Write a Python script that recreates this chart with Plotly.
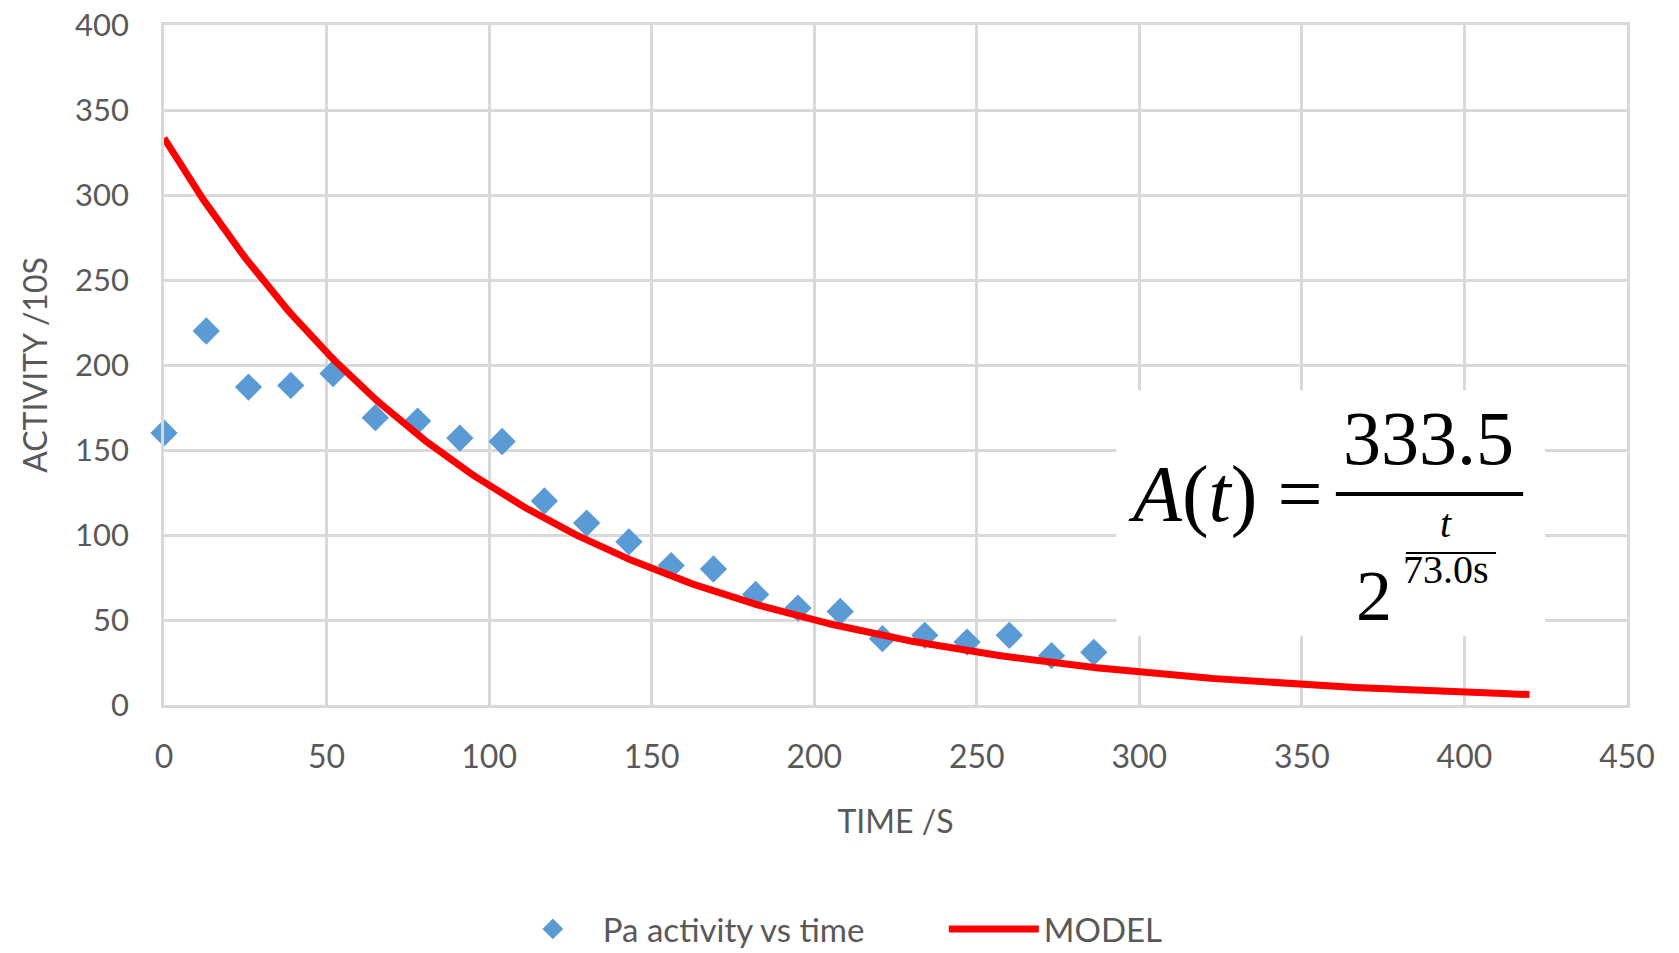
import numpy as np
import plotly.graph_objects as go

# Measured Pa activity (counts per 10 s) against time
time_s = [0, 13, 26, 39, 52, 65, 78, 91, 104, 117, 130, 143,
          156, 169, 182, 195, 208, 221, 234, 247, 260, 273, 286]
activity = [160, 220, 187, 188, 195, 169, 167, 157, 155, 120, 107, 96,
            82, 80, 65, 57, 55, 39, 41, 37, 41, 29, 31]

# Decay model parameters
A0 = 333.5
HALF_LIFE = 73.0
MODEL_END = 420

x_ticks = [0, 50, 100, 150, 200, 250, 300, 350, 400, 450]
y_ticks = [0, 50, 100, 150, 200, 250, 300, 350, 400]

model_t = np.linspace(0, MODEL_END, 400)
model_a = A0 / 2 ** (model_t / HALF_LIFE)

GRID = "#D9D9D9"
TEXT = "#595959"
SANS = "Lato"
SERIF = "Liberation Serif"

fig = go.Figure()
fig.add_trace(go.Scatter(
    x=time_s, y=activity, mode="markers", name="Pa activity vs time",
    marker=dict(symbol="diamond", size=21, color="#5B9BD5"),
    cliponaxis=False,
))
fig.add_trace(go.Scatter(
    x=model_t, y=model_a, mode="lines", name="MODEL",
    line=dict(color="#FF0000", width=7),
    cliponaxis=False,
))

# White panel behind the formula (covers the gridlines)
fig.add_shape(type="rect", xref="paper", yref="paper",
              x0=0.651, x1=0.944, y0=0.101, y1=0.463,
              fillcolor="white", line=dict(width=0), layer="above")

# Formula A(t) = 333.5 / 2^(t / 73.0s)
ann = [
    dict(text="<i>A</i>(<i>t</i>) =", x=0.6576, y=0.310, xanchor="left",
         size=80),
    dict(text="333.5", x=0.8643, y=0.3926, xanchor="center", size=76),
    dict(text="2", x=0.8274, y=0.1596, xanchor="center", size=72),
    dict(text="73.0s", x=0.8760, y=0.1990, xanchor="center", size=40),
    dict(text="<i>t</i>", x=0.8766, y=0.2669, xanchor="center", size=40),
]
for a in ann:
    fig.add_annotation(text=a["text"], x=a["x"], y=a["y"], xref="paper",
                       yref="paper", xanchor=a["xanchor"], yanchor="middle",
                       showarrow=False,
                       font=dict(family=SERIF, size=a["size"], color="black"))
fig.add_shape(type="line", xref="paper", yref="paper",
              x0=0.801, x1=0.929, y0=0.3103, y1=0.3103,
              line=dict(color="black", width=4), layer="above")
fig.add_shape(type="line", xref="paper", yref="paper",
              x0=0.8489, x1=0.9105, y0=0.2235, y1=0.2235,
              line=dict(color="black", width=2), layer="above")

fig.update_layout(
    width=1679, height=953,
    margin=dict(l=164, r=52, t=25, b=248, autoexpand=False),
    paper_bgcolor="white", plot_bgcolor="white",
    font=dict(family=SANS, color=TEXT, size=31),
    showlegend=True,
    legend=dict(orientation="h", x=0.2316, xanchor="left",
                y=-0.3294, yanchor="middle",
                font=dict(family=SANS, size=33, color=TEXT),
                itemwidth=90, entrywidth=336, entrywidthmode="pixels",
                bgcolor="rgba(0,0,0,0)"),
)
fig.update_xaxes(
    range=[0, 450], tickvals=x_ticks, ticktext=[str(v) for v in x_ticks],
    showgrid=True, gridcolor=GRID, gridwidth=2.5,
    showline=True, linecolor=GRID, linewidth=2.5, mirror=True,
    zeroline=False, ticks="", ticklabelstandoff=22,
    tickfont=dict(family=SANS, size=32, color=TEXT),
    title=dict(text="TIME /S", standoff=37,
               font=dict(family=SANS, size=32, color=TEXT)),
    automargin=False,
)
fig.update_yaxes(
    range=[0, 400], tickvals=y_ticks, ticktext=[str(v) for v in y_ticks],
    showgrid=True, gridcolor=GRID, gridwidth=2.5,
    showline=True, linecolor=GRID, linewidth=2.5, mirror=True,
    zeroline=False, ticks="", ticklabelstandoff=26,
    tickfont=dict(family=SANS, size=31, color=TEXT),
    title=dict(text="ACTIVITY /10S", standoff=18,
               font=dict(family=SANS, size=32, color=TEXT)),
    automargin=False,
)

fig.write_html("out.html")
